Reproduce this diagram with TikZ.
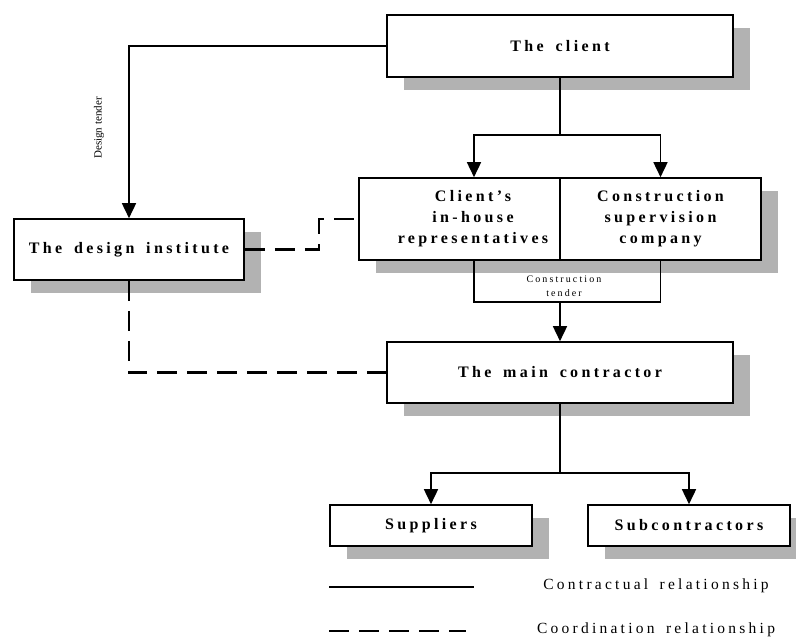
\documentclass[tikz,border=0pt]{standalone}
\usepackage{fontspec}
\setmainfont{Liberation Serif}
\newfontfamily\spaced[LetterSpace=21,WordSpace=1.6]{Liberation Serif}
\usepackage{tikz}
\usetikzlibrary{arrows.meta,shadows}

\begin{document}
\begin{tikzpicture}[x=1pt,y=1pt,
  box/.style={draw=black,line width=1.6pt,fill=white,inner sep=0pt,
    drop shadow={shadow xshift=17pt,shadow yshift=-13pt,fill=gray!60,opacity=1}},
  boxtext/.style={font=\spaced\bfseries\fontsize{16}{21}\selectfont,align=center},
  line/.style={black,line width=1.6pt},
  arr/.style={line,-{Triangle[length=15pt,width=14pt]}},
  coordline/.style={black,line width=2.6pt,dash pattern=on 20pt off 10pt}]
\useasboundingbox (0,0) rectangle (796,-637);
    \node[box,boxtext,minimum width=346pt,minimum height=62pt] (client) at (560,-46) {The client};
    \node[box,boxtext,minimum width=230pt,minimum height=61pt] (design) at (129,-249.5) {The design institute};
    \node[box,minimum width=201pt,minimum height=82pt] (rep) at (459.5,-219) {};
    \node[boxtext] (reptext) at (473,-219) {Client’s\\in-house\\representatives};
    \node[box,boxtext,minimum width=201pt,minimum height=82pt] (sup) at (660.5,-219) {Construction\\supervision\\company};
    \node[box,boxtext,minimum width=346pt,minimum height=61pt] (main) at (560,-372.5) {The main contractor};
    \node[box,boxtext,minimum width=202pt,minimum height=41pt] (suppliers) at (431,-525.5) {Suppliers};
    \node[box,boxtext,minimum width=202pt,minimum height=41pt] (subcon) at (689,-525.5) {Subcontractors};
    \coordinate (top split) at (560,-135);
    \draw[line] (client.south) -- (top split);
    \draw[arr] (top split) -| ([xshift=14.5pt]rep.north);
    \draw[arr] (top split) -| (sup.north);
    \draw[arr] (client.west) -| (design.north);
    \node[rotate=90,font=\fontsize{11}{13}\selectfont] (dtlabel) at (99,-128) {Design tender};
    \draw[coordline] (design.east) -- ++(74,0) |- (rep.west);
    \draw[coordline] (design.south) |- (main.west);
    \coordinate (tender) at (560,-302);
    \draw[line] ([xshift=14.5pt]rep.south) |- (tender) -| (sup.south);
    \node[font=\spaced\fontsize{10}{14}\selectfont,align=center] (tenderlabel) at (564,-286) {Construction\\tender};
    \draw[arr] (tender) -- (main.north);
    \coordinate (bottom split) at (560,-473);
    \draw[line] (main.south) -- (bottom split);
    \draw[arr] (bottom split) -| (suppliers.north);
    \draw[arr] (bottom split) -| (subcon.north);
    \coordinate (solid a) at (329,-587);
    \coordinate (solid b) at (474,-587);
    \draw[line] (solid a) -- (solid b);
    \node[font=\spaced\fontsize{15.5}{18}\selectfont] (contract) at (656,-586) {Contractual relationship};
    \coordinate (dash a) at (329,-631);
    \coordinate (dash b) at (466,-631);
    \draw[coordline] (dash a) -- (dash b);
    \node[font=\spaced\fontsize{15.5}{18}\selectfont] (coord) at (656,-630) {Coordination relationship};
\end{tikzpicture}
\end{document}
